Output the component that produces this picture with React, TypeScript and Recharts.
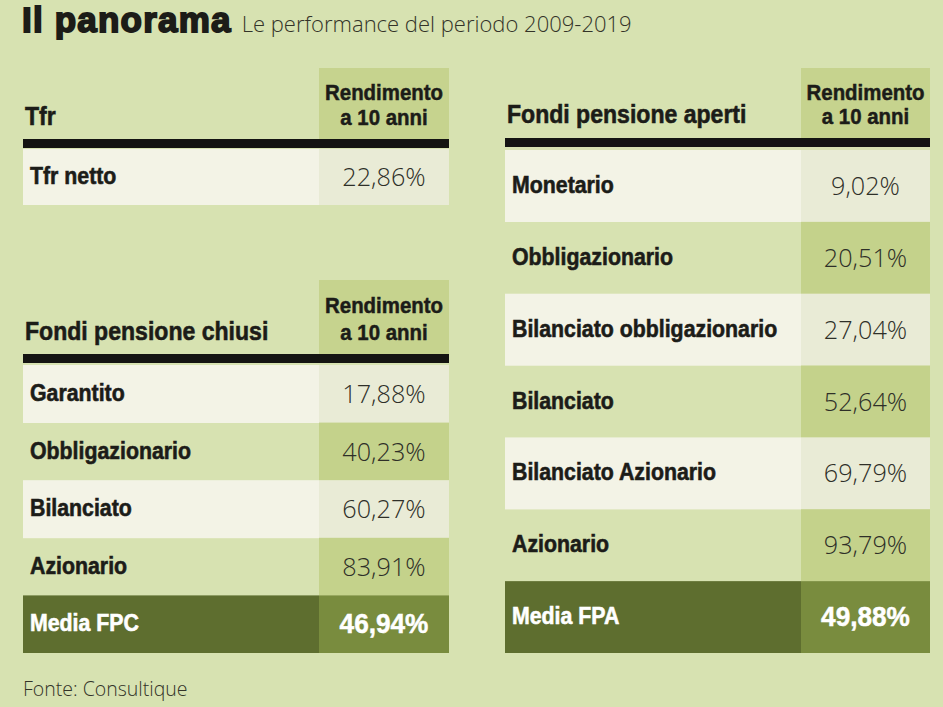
import React from 'react';
import { BarChart, Bar, XAxis, YAxis, Customized } from 'recharts';

// ---------- data ----------
const tableTitles = ['Tfr', 'Fondi pensione chiusi', 'Fondi pensione aperti'];
const columnHeader = ['Rendimento', 'a 10 anni'];

const tfrNames = ['Tfr netto'];
const tfrValues = [22.86];

const fpcNames = ['Garantito', 'Obbligazionario', 'Bilanciato', 'Azionario', 'Media FPC'];
const fpcValues = [17.88, 40.23, 60.27, 83.91, 46.94];

const fpaNames = [
  'Monetario',
  'Obbligazionario',
  'Bilanciato obbligazionario',
  'Bilanciato',
  'Bilanciato Azionario',
  'Azionario',
  'Media FPA',
];
const fpaValues = [9.02, 20.51, 27.04, 52.64, 69.79, 93.79, 49.88];

const titleText = 'Il panorama';
const subtitleText = 'Le performance del periodo 2009-2019';
const sourceText = 'Fonte: Consultique';

// ---------- styles ----------
const BG = '#d7e2b1';
const LIGHT_LABEL = '#f3f3e6';
const LIGHT_VALUE = '#e9ebd6';
const GREEN_VALUE = '#c4d28b';
const HEADER_VALUE = '#c6d38e';
const MEDIA_LABEL = '#5e6e2f';
const MEDIA_VALUE = '#798c3e';
const TEXT = '#1c1c18';
const VALUE_TEXT = '#2e2f28';

const BOLD = "'Liberation Sans', Arial, sans-serif";
const LIGHTFONT = "'Open Sans', 'Liberation Sans', sans-serif";
const VALUE_COL = 296;

const fmt = (v: number) => v.toFixed(2).replace('.', ',') + '%';

type STextProps = {
  x: number;
  y: number;
  k: number;
  size: number;
  weight: number;
  family: string;
  fill: string;
  stroke?: number;
  anchor?: 'start' | 'middle' | 'end';
  children: React.ReactNode;
};

function SText({ x, y, k, size, weight, family, fill, stroke = 0, anchor = 'start', children }: STextProps) {
  return (
    <text
      transform={`translate(${x},${y}) scale(${k},1)`}
      x={0}
      y={0}
      textAnchor={anchor}
      fontFamily={family}
      fontWeight={weight}
      fontSize={size}
      fill={fill}
      stroke={stroke > 0 ? fill : 'none'}
      strokeWidth={stroke}
    >
      {children}
    </text>
  );
}

type TableProps = {
  title: string;
  names: string[];
  values: number[];
  left: number;
  top: number;
  width: number;
  headerH: number;
  lineTop: number;
  rowsH: number;
  titleBase: number;
  colBase: [number, number];
};

function Table(p: TableProps) {
  const data = p.names.map((n, i) => ({ name: n, value: p.values[i] }));
  const W = p.width;
  const last = data.length - 1;
  const cx = VALUE_COL + (W - VALUE_COL) / 2;

  const RowShape = (props: any) => {
    const { y, height, index } = props;
    const entry = data[index];
    const isMedia = index === last && entry.name.startsWith('Media');
    const isLight = index % 2 === 0;
    const labelFill = isMedia ? MEDIA_LABEL : isLight ? LIGHT_LABEL : 'none';
    const valueFill = isMedia ? MEDIA_VALUE : isLight ? LIGHT_VALUE : GREEN_VALUE;
    return (
      <g>
        <rect x={0} y={y} width={VALUE_COL} height={height} fill={labelFill} />
        <rect x={VALUE_COL} y={y} width={W - VALUE_COL} height={height} fill={valueFill} />
        <SText
          x={7}
          y={y + height / 2 + 7}
          k={0.87}
          size={24.5}
          weight={700}
          family={BOLD}
          fill={isMedia ? '#ffffff' : TEXT}
          stroke={0.6}
        >
          {entry.name}
        </SText>
        {isMedia ? (
          <SText
            x={cx}
            y={y + height / 2 + 9}
            k={0.97}
            size={27}
            weight={700}
            family={BOLD}
            fill="#ffffff"
            stroke={0.5}
            anchor="middle"
          >
            {fmt(entry.value)}
          </SText>
        ) : (
          <SText
            x={cx}
            y={y + height / 2 + 9}
            k={0.97}
            size={26}
            weight={300}
            family={LIGHTFONT}
            fill={VALUE_TEXT}
            anchor="middle"
          >
            {fmt(entry.value)}
          </SText>
        )}
      </g>
    );
  };

  const Header = () => (
    <g>
      <rect x={VALUE_COL} y={0} width={W - VALUE_COL} height={p.lineTop} fill={HEADER_VALUE} />
      <SText x={2} y={p.titleBase} k={0.87} size={26.5} weight={700} family={BOLD} fill={TEXT} stroke={0.6}>
        {p.title}
      </SText>
      <SText
        x={cx}
        y={p.colBase[0]}
        k={0.95}
        size={21.5}
        weight={700}
        family={BOLD}
        fill={TEXT}
        stroke={0.5}
        anchor="middle"
      >
        {columnHeader[0]}
      </SText>
      <SText
        x={cx}
        y={p.colBase[1]}
        k={0.95}
        size={21.5}
        weight={700}
        family={BOLD}
        fill={TEXT}
        stroke={0.5}
        anchor="middle"
      >
        {columnHeader[1]}
      </SText>
      <rect x={0} y={p.lineTop} width={W} height={9} fill="#141412" />
    </g>
  );

  return (
    <div style={{ position: 'absolute', left: p.left, top: p.top }}>
      <BarChart
        width={W}
        height={p.headerH + p.rowsH}
        data={data}
        layout="vertical"
        margin={{ top: p.headerH, right: 0, bottom: 0, left: 0 }}
        barCategoryGap={0}
        barGap={0}
      >
        <XAxis type="number" hide domain={[0, 100]} />
        <YAxis type="category" dataKey="name" hide />
        <Customized component={Header} />
        <Bar dataKey="value" isAnimationActive={false} shape={RowShape} />
      </BarChart>
    </div>
  );
}

export default function App() {
  return (
    <div
      style={{
        position: 'absolute',
        left: 0,
        top: 0,
        width: 943,
        height: 707,
        background: BG,
        overflow: 'hidden',
      }}
    >
      <div
        style={{
          position: 'absolute',
          left: 22,
          top: 2,
          whiteSpace: 'nowrap',
          lineHeight: 1,
        }}
      >
        <span
          style={{
            fontFamily: BOLD,
            fontWeight: 700,
            fontSize: 35,
            color: TEXT,
            letterSpacing: 1.2,
            WebkitTextStroke: '1.8px ' + TEXT,
          }}
        >
          {titleText}
        </span>
        <span
          style={{
            fontFamily: LIGHTFONT,
            fontWeight: 300,
            fontSize: 22,
            color: '#333328',
            marginLeft: 10,
            letterSpacing: 0,
          }}
        >
          {subtitleText}
        </span>
      </div>

      <Table
        title={tableTitles[0]}
        names={tfrNames}
        values={tfrValues}
        left={23}
        top={68}
        width={426}
        headerH={81}
        lineTop={71}
        rowsH={56}
        titleBase={57}
        colBase={[32, 57]}
      />
      <Table
        title={tableTitles[1]}
        names={fpcNames}
        values={fpcValues}
        left={23}
        top={280}
        width={426}
        headerH={85}
        lineTop={74}
        rowsH={288}
        titleBase={60}
        colBase={[33, 60]}
      />
      <Table
        title={tableTitles[2]}
        names={fpaNames}
        values={fpaValues}
        left={505}
        top={68}
        width={425}
        headerH={82}
        lineTop={70}
        rowsH={503}
        titleBase={55}
        colBase={[32, 56]}
      />

      <div
        style={{
          position: 'absolute',
          left: 23,
          top: 679,
          fontFamily: LIGHTFONT,
          fontWeight: 300,
          fontSize: 19.5,
          color: '#333328',
          whiteSpace: 'nowrap',
          lineHeight: 1,
          letterSpacing: 0,
        }}
      >
        {sourceText}
      </div>
    </div>
  );
}
